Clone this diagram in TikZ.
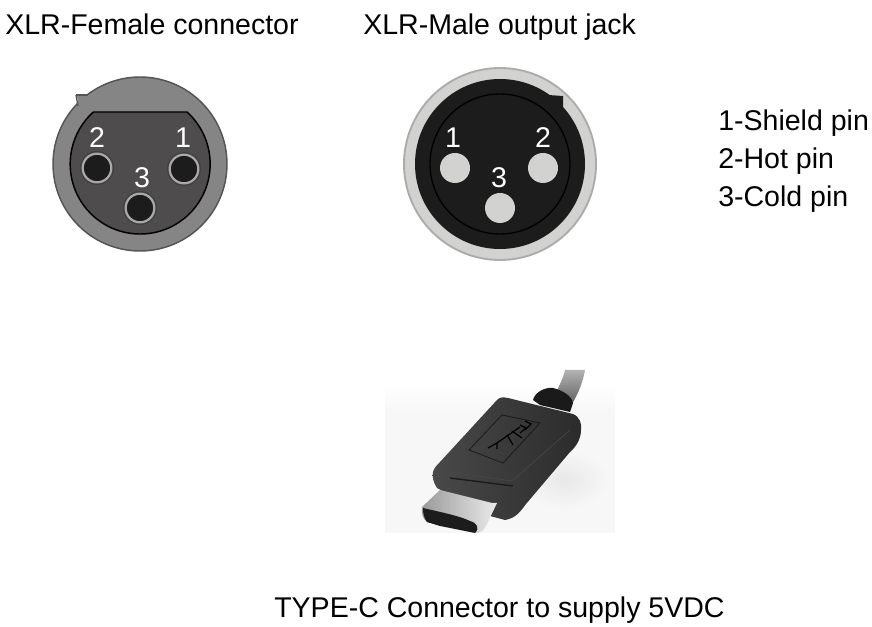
\documentclass[tikz,border=0pt]{standalone}
\usepackage{fontspec}
\setmainfont{Liberation Sans}
\definecolor{shellgray}{HTML}{858585}
\definecolor{shelledge}{HTML}{555555}
\definecolor{facegray}{HTML}{4E4C4C}
\definecolor{pinring}{HTML}{A8A8A8}
\definecolor{pinblack}{HTML}{1C1C1C}
\definecolor{ringlight}{HTML}{D2D2D0}
\definecolor{ringedge}{HTML}{ABABAB}
\definecolor{plugblack}{HTML}{303030}
\definecolor{plugedge}{HTML}{1A1A1A}
\tikzset{
  title/.style={anchor=base west, inner sep=0pt, font=\fontsize{21.4}{24}\selectfont},
  pinlabel/.style={text=white, inner sep=0pt, font=\fontsize{21.4}{24}\selectfont},
  malepin/.style={circle, fill=ringlight, minimum size=22.5pt, inner sep=0pt},
}
\begin{document}
\begin{tikzpicture}[x=0.75pt, y=-0.75pt]
  \useasboundingbox (0,0) rectangle (872,627);
  \fill[white] (0,0) rectangle (872,627);

  \node[title] (femaletitle) at (5,35) {XLR-Female connector};
  \node[title] (maletitle) at (363,35) {XLR-Male output jack};
  \node[title] (shieldtext) at (718,131) {1-Shield pin};
  \node[title] (hottext) at (718,169) {2-Hot pin};
  \node[title] (coldtext) at (718,207) {3-Cold pin};
  \node[title] (typectext) at (274,617) {TYPE-C Connector to supply 5VDC};

  \draw[shelledge, fill=shellgray, line width=1.1pt] (140,164) circle (87);
  \fill[shellgray] (77,96) -- (88,96) -- (95,100) -- (80,112) -- cycle;
  \draw[shelledge, line width=1pt] (76,95) -- (88,95);
  \draw[shelledge, line width=1pt] (76,95) -- (78,106);
  \draw[black, fill=facegray, line width=1.1pt] (93,112) -- (187,112)
    arc[start angle=-48, end angle=228, radius=70] -- cycle;
  \foreach \px/\py/\pname in {184/169/1, 97/168/2, 140/208/3} {
    \node[circle, fill=black!75, minimum size=25.5pt, inner sep=0pt] (fout\pname) at (\px,\py) {};
    \node[circle, draw=pinring, line width=1.7pt, fill=pinblack, minimum size=21.5pt, inner sep=0pt] (fpin\pname) at (\px,\py) {};
  }
  \node[pinlabel] (flabel1) at (183,138) {1};
  \node[pinlabel] (flabel2) at (97,138) {2};
  \node[pinlabel] (flabel3) at (142,178) {3};

  \draw[ringedge, fill=ringlight, line width=1.4pt] (500,164) circle (96);
  \fill[pinblack] (500,164) circle (85);
  \fill[pinblack] (548,95) -- (563,96) -- (563,108) -- (545,110) -- cycle;
  \draw[black, line width=1pt] (500,164) circle (70);
  \node[malepin] (mpin1) at (455,168) {};
  \node[malepin] (mpin2) at (543,168) {};
  \node[malepin] (mpin3) at (500,208) {};
  \node[pinlabel] (mlabel1) at (453,138) {1};
  \node[pinlabel] (mlabel2) at (543,138) {2};
  \node[pinlabel] (mlabel3) at (499,178) {3};

  % photo of the plug
  \fill[black!3] (385,410) rectangle (615,533);
  \shade[top color=white, bottom color=black!3] (385,385) rectangle (615,410);
  \shade[inner color=black!9, outer color=black!3] (565,480) ellipse (45 and 30);
  \shade[top color=black!30, bottom color=black!62] (565,370) -- (585,370)
    .. controls (583,382) and (578,394) .. (572,404) -- (556,392)
    .. controls (560,385) and (563,378) .. (565,370) -- cycle;
  \fill[plugedge] (533,400) .. controls (535,392) and (545,387) .. (553,388)
    .. controls (562,390) and (572,396) .. (573,403) -- (570,412) -- (540,405) -- cycle;
  \shade[left color=plugblack!88!white, right color=plugblack!90!black]
    (497,400) .. controls (500,397) and (503,397) .. (508,398)
    -- (573,414) .. controls (580,417) and (582,424) .. (581,430)
    .. controls (581,438) and (577,446) .. (570,452)
    -- (526,504) .. controls (520,512) and (516,518) .. (505,520)
    -- (490,516) -- (437,488) .. controls (433,482) and (432,476) .. (433,472)
    .. controls (434,468) and (437,465) .. (440,462) -- cycle;
  \draw[plugedge, line width=0.6pt] (502,415) -- (540,423) -- (503,463) -- (469,450) -- cycle;
  \draw[plugedge, line width=1pt] (450,478) -- (513,486);
  \draw[black!72, line width=0.5pt] (436,470) -- (512,481) -- (570,430);
  % logo
  \draw[black, line width=0.9pt] (488,448) -- (497,443) -- (520,427)
    (497,443) -- (497,449) (507,435) -- (513,445) (512,431) -- (522,438);
  \draw[black, line width=0.9pt] (520,425) -- (526,428) -- (520,433) (525,421) -- (531,424) -- (525,430);
  % metal shell
  \shade[left color=black!40, right color=black!8] (440,490) -- (422,507)
    .. controls (421,514) and (423,519) .. (427,522)
    -- (475,533) .. controls (481,533) and (484,530) .. (486,526)
    -- (497,503) -- (492,503) -- cycle;
  \fill[pinblack] (423,508) .. controls (440,512) and (460,516) .. (470,521)
    .. controls (477,523) and (480,528) .. (475,533)
    -- (440,526) -- (427,522) .. controls (424,518) and (423,514) .. (423,508) -- cycle;
\end{tikzpicture}
\end{document}
